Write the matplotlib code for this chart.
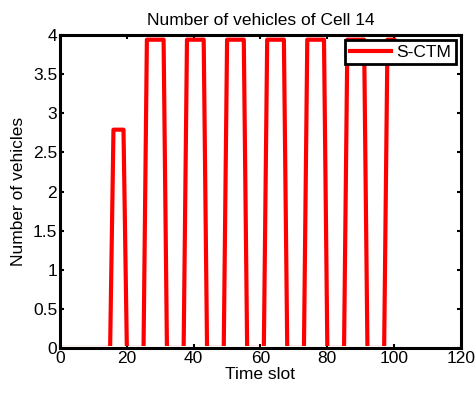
import matplotlib
matplotlib.use("Agg")
import matplotlib.pyplot as plt
from matplotlib.patches import Rectangle

plt.rcParams['font.family'] = ['Liberation Sans', 'DejaVu Sans']

# breakpoints of the S-CTM curve for cell 14
time_slot = [0, 15, 16, 19, 20, 25, 26, 31, 32, 37, 38, 43, 44, 49, 50, 55, 56,
             61, 62, 67, 68, 73, 74, 79, 80, 85, 86, 91, 92, 97, 98, 100]
vehicles = [0, 0, 2.79, 2.79, 0, 0, 3.94, 3.94, 0, 0, 3.94, 3.94, 0, 0, 3.94, 3.94, 0,
            0, 3.94, 3.94, 0, 0, 3.94, 3.94, 0, 0, 3.94, 3.94, 0, 0, 3.94, 3.94]

xticks = [0, 20, 40, 60, 80, 100, 120]
yticks = [0, 0.5, 1, 1.5, 2, 2.5, 3, 3.5, 4]
ytick_labels = ['0', '0.5', '1', '1.5', '2', '2.5', '3', '3.5', '4']

fig = plt.figure(figsize=(4.77, 3.96), dpi=100)
ax = fig.add_axes([60 / 477, 1 - 348 / 396, 401 / 477, 313 / 396])

line, = ax.plot(time_slot, vehicles, color='red', lw=3, label='S-CTM', zorder=2)
# the zero level sits under the axis line, as in the MATLAB figure
clip = Rectangle((0, 0.006), 1, 1, transform=ax.transAxes, visible=False)
ax.add_patch(clip)
line.set_clip_path(clip)

ax.set_xlim(0, 120)
ax.set_ylim(0, 4)
ax.set_xticks(xticks)
ax.set_yticks(yticks)
ax.set_yticklabels(ytick_labels)
ax.tick_params(direction='in', top=True, right=True, length=3, width=1.5,
               labelsize=12.5, pad=2)
for s in ax.spines.values():
    s.set_linewidth(2.2)
    s.set_zorder(5)

ax.set_xlabel('Time slot', fontsize=12.5, labelpad=1)
ax.set_ylabel('Number of vehicles', fontsize=12.5, labelpad=5)
ax.set_title('Number of vehicles of Cell 14', fontsize=12.5, pad=7)

leg = ax.legend(loc='upper right', fontsize=12.5, fancybox=False, framealpha=1,
                edgecolor='black', borderaxespad=0.3, handlelength=2.4,
                borderpad=0.25, handletextpad=0.3)
leg.get_frame().set_linewidth(2)

fig.savefig('out.png', dpi=100)
